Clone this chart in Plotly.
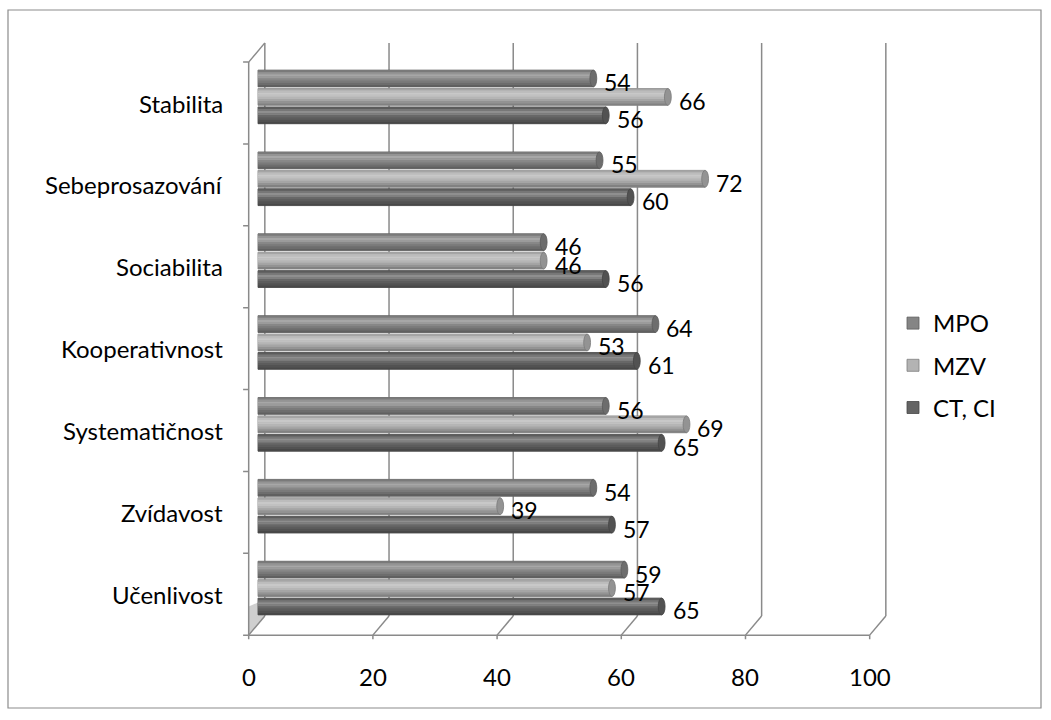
import plotly.graph_objects as go

# Categories listed bottom-to-top (plotly category axis grows upward)
categories = ["Učenlivost", "Zvídavost", "Systematičnost", "Kooperativnost",
              "Sociabilita", "Sebeprosazování", "Stabilita"]
mpo = [59, 54, 56, 64, 46, 55, 54]
mzv = [57, 39, 69, 53, 46, 72, 66]
ct_ci = [65, 57, 65, 61, 56, 60, 56]
x_ticks = [0, 20, 40, 60, 80, 100]

W, H = 1051, 720
FONT = "Lato"
FS = 24
LINE = "#8a8a8a"

# pixel scale of the value / category axes
PX_X = 6.21          # px per value unit
PX_Y = 81.86         # px per category
X0_PX, Y_BOT_PX = 258, 629   # where value 0 and the lowest category edge sit
X_RANGE = [-3, 103]
CMIN, CMAX = -0.5, len(categories) - 0.5
Y_RANGE = [CMIN - 0.3, CMAX + 0.3]

x_dom = [(X0_PX + X_RANGE[0] * PX_X) / W, (X0_PX + X_RANGE[1] * PX_X) / W]
y_bot = Y_BOT_PX + (CMIN - Y_RANGE[0]) * PX_Y
y_top = Y_BOT_PX - (Y_RANGE[1] - CMIN) * PX_Y
y_dom = [(H - y_bot) / H, (H - y_top) / H]


def mix(hex_col, f):
    """Brighten (f>1, toward white) or darken (f<1, toward black) a grey."""
    r = int(hex_col[1:3], 16)
    if f >= 1:
        r = r + (255 - r) * (f - 1)
    else:
        r = r * f
    r = max(0, min(255, int(round(r))))
    return "#{0:02x}{0:02x}{0:02x}".format(r)


# series: name, values, base colour, offset of bar centre (in categories)
series = [
    ("MPO", mpo, "#858585", 0.225),
    ("MZV", mzv, "#b3b3b3", 0.0),
    ("CT, CI", ct_ci, "#646464", -0.225),
]
BAR_W = 0.205
# shading profile of the cylinder, from its top edge to its bottom edge
profile = [0.92, 1.12, 1.28, 1.18, 1.02, 0.92, 0.82, 0.72]
band = BAR_W / len(profile)

fig = go.Figure()
for name, vals, base, off in series:
    # main cylinder body (carries the legend entry)
    fig.add_trace(go.Bar(
        y=categories, x=vals, orientation="h", name=name,
        width=BAR_W, offset=off - BAR_W / 2,
        marker=dict(color=base, line=dict(color=mix(base, 0.7), width=0.8)),
        legendgroup=name, showlegend=True, hoverinfo="x+name",
    ))
    # shading bands that give the bar its rounded look
    for k, f in enumerate(profile):
        top = off + BAR_W / 2 - k * band
        fig.add_trace(go.Bar(
            y=categories, x=vals, orientation="h", name=name,
            width=band * 1.02, offset=top - band,
            marker=dict(color=mix(base, f), line=dict(width=0)),
            legendgroup=name, showlegend=False, hoverinfo="skip",
        ))

# --- 3D-looking frame: front plane shifted left/down, back plane right/up
FX, FY = 1.5, 0.075
BX, BY = 1.1, 0.16


def front(v, c):
    return v - FX, c - FY


def back(v, c):
    return v + BX, c + BY


def seg(p, q, width=1.5):
    fig.add_shape(type="line", xref="x", yref="y",
                  x0=p[0], y0=p[1], x1=q[0], y1=q[1],
                  line=dict(color=LINE, width=width), layer="below")


# lower part of the side wall, lightly shaded
p1, p2 = front(0, CMIN), back(0, CMIN)
p3, p4 = back(0, CMIN + 0.2), front(0, CMIN + 0.35)
fig.add_shape(type="path", xref="x", yref="y", layer="below",
              path=f"M{p1[0]},{p1[1]} L{p2[0]},{p2[1]} L{p3[0]},{p3[1]} "
                   f"L{p4[0]},{p4[1]} Z",
              fillcolor="#cfcfcf", line=dict(width=0))

# left wall
seg(front(0, CMIN), front(0, CMAX))
seg(back(0, CMIN), back(0, CMAX))
seg(front(0, CMAX), back(0, CMAX))
for i in range(len(categories) + 1):
    fx, fy = front(0, CMIN + i)
    seg((fx - 0.9, fy), (fx, fy))

# floor and back wall
seg(front(0, CMIN), front(100, CMIN))
for v in x_ticks:
    seg(front(v, CMIN), back(v, CMIN))
    fx, fy = front(v, CMIN)
    seg((fx, fy), (fx, fy - 0.05))
    if v > 0:
        seg(back(v, CMIN), back(v, CMAX))

# rounded caps at the end of every cylinder
for name, vals, base, off in series:
    for i, v in enumerate(vals):
        fig.add_shape(type="circle", xref="x", yref="y", layer="above",
                      x0=v - 0.55, x1=v + 0.55,
                      y0=i + off - BAR_W / 2, y1=i + off + BAR_W / 2,
                      fillcolor=mix(base, 0.82),
                      line=dict(color=mix(base, 0.68), width=0.8))

annotations = []
# category labels aligned to the front plane
for i, cat in enumerate(categories):
    annotations.append(dict(
        x=225 / W, xref="paper", y=i - FY, yref="y", text=cat,
        showarrow=False, xanchor="right", yanchor="middle",
        font=dict(family=FONT, size=FS, color="#000000"),
    ))
# value axis labels under the front plane
for v in x_ticks:
    annotations.append(dict(
        x=v - FX, xref="x", y=(H - 676) / H, yref="paper", text=str(v),
        showarrow=False, xanchor="center", yanchor="middle",
        font=dict(family=FONT, size=FS, color="#000000"),
    ))
# data labels
for name, vals, base, off in series:
    for i, v in enumerate(vals):
        annotations.append(dict(
            x=v, xref="x", y=i + off, yref="y", text=str(v),
            showarrow=False, xanchor="left", yanchor="middle",
            xshift=9, yshift=-4,
            font=dict(family=FONT, size=23, color="#000000"),
        ))

# outer chart border
fig.add_shape(type="rect", xref="paper", yref="paper",
              x0=8 / W, x1=1041 / W, y0=1 - 708 / H, y1=1 - 10 / H,
              line=dict(color="#8c8c8c", width=1.2), fillcolor="rgba(0,0,0,0)")

fig.update_layout(
    width=W, height=H,
    margin=dict(l=0, r=0, t=0, b=0),
    paper_bgcolor="#ffffff", plot_bgcolor="rgba(0,0,0,0)",
    barmode="overlay",
    font=dict(family=FONT, size=FS, color="#000000"),
    xaxis=dict(range=X_RANGE, domain=x_dom,
               showgrid=False, zeroline=False, showline=False,
               showticklabels=False, ticks=""),
    yaxis=dict(type="category", categoryorder="array", categoryarray=categories,
               range=Y_RANGE, domain=y_dom,
               showgrid=False, zeroline=False, showline=False,
               showticklabels=False, ticks=""),
    legend=dict(x=893 / W, y=(H - 301) / H, xanchor="left", yanchor="top",
                traceorder="grouped", tracegroupgap=8,
                font=dict(family=FONT, size=FS, color="#000000"),
                bgcolor="rgba(0,0,0,0)", itemwidth=30),
    annotations=annotations,
    showlegend=True,
)

fig.write_html("out.html")
